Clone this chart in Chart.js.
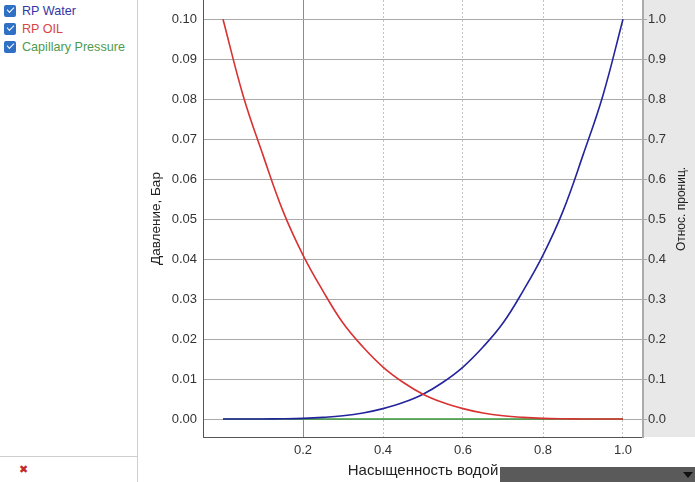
<!DOCTYPE html>
<html>
<head>
<meta charset="utf-8">
<script src="https://cdn.jsdelivr.net/npm/chart.js@4/dist/chart.umd.min.js"></script>
<style>
  html, body { margin: 0; padding: 0; background: #fff; }
  body { width: 695px; height: 482px; position: relative; overflow: hidden; font-family: "Liberation Sans", Arial, sans-serif; }
  #side { position: absolute; left: 0; top: 0; width: 137px; height: 482px; border-right: 1px solid #cfcfcf; }
  #side .item { position: absolute; left: 4px; height: 14px; font-size: 12.6px; line-height: 14px; white-space: nowrap; }
  #side .box { display: inline-block; width: 12px; height: 12px; border-radius: 2px; background: #2f6fc4; vertical-align: top; margin-top: 1px; position: relative; }
  #side .box:after { content: ""; position: absolute; left: 3px; top: 2px; width: 6px; height: 3px; border-left: 1.5px solid #fff; border-bottom: 1.5px solid #fff; transform: rotate(-45deg); }
  #side .lbl { margin-left: 6px; }
  #sep { position: absolute; left: 0; top: 456px; width: 137px; border-top: 1px solid #cfcfcf; }
  #close { position: absolute; left: 19px; top: 463px; color: #c42a2a; font-size: 11px; }
  #wrap { position: absolute; left: 138px; top: 0; width: 557px; height: 482px; }
  #combo { position: absolute; left: 500px; top: 467px; width: 195px; height: 15px; background: #5a5a5a; }
  #combo:after { content: ""; position: absolute; right: 2px; top: 5px; border-left: 5px solid transparent; border-right: 5px solid transparent; border-top: 6px solid #111; }
</style>
</head>
<body>
<div id="side">
  <div class="item" style="top:4px"><span class="box"></span><span class="lbl" style="color:#3535a6">RP Water</span></div>
  <div class="item" style="top:22px"><span class="box"></span><span class="lbl" style="color:#d84545">RP OIL</span></div>
  <div class="item" style="top:40px"><span class="box"></span><span class="lbl" style="color:#4f9a4f">Capillary Pressure</span></div>
  <div id="sep"></div>
  <div id="close">&#10006;</div>
</div>
<div id="wrap"><canvas id="chart" width="557" height="482"></canvas></div>
<div id="combo"></div>
<script>
// water saturation and curves
const saturation = [0, 0.05, 0.1, 0.15, 0.2, 0.25, 0.3, 0.35, 0.4, 0.45, 0.5, 0.55, 0.6, 0.65, 0.7, 0.75, 0.8, 0.85, 0.9, 0.95, 1.0];
const rpWater = [0, 0, 0.0001, 0.0005, 0.0016, 0.004, 0.008, 0.015, 0.026, 0.041, 0.062, 0.092, 0.13, 0.18, 0.24, 0.32, 0.41, 0.52, 0.66, 0.81, 1.0];
const rpOil = [1.0, 0.81, 0.66, 0.52, 0.41, 0.32, 0.24, 0.18, 0.13, 0.092, 0.062, 0.041, 0.026, 0.015, 0.008, 0.004, 0.0016, 0.0005, 0.0001, 0, 0];
const capPressure = [0, 0, 0, 0, 0, 0, 0, 0, 0, 0, 0, 0, 0, 0, 0, 0, 0, 0, 0, 0, 0];

const xTicks = [0.2, 0.4, 0.6, 0.8, 1.0];
const pressureTicks = [0, 0.01, 0.02, 0.03, 0.04, 0.05, 0.06, 0.07, 0.08, 0.09, 0.10];
const permTicks = [0, 0.1, 0.2, 0.3, 0.4, 0.5, 0.6, 0.7, 0.8, 0.9, 1.0];

const toPoints = (ys) => saturation.map((x, i) => ({x, y: ys[i]}));
const fixTicks = (values) => (scale) => { scale.ticks = values.map(v => ({value: v})); };

const font = {family: '"Liberation Sans", Arial, sans-serif', size: 13};

// grey strip behind the right axis and its title, which reads bottom-up like the left one
const sideStrip = {
  id: 'sideStrip',
  beforeDraw (chart) {
    const {ctx, chartArea} = chart;
    ctx.save();
    ctx.fillStyle = '#e8e8e8';
    ctx.fillRect(chartArea.right, 0, chart.width - chartArea.right, chartArea.bottom);
    ctx.restore();
  },
  afterDraw (chart) {
    const {ctx} = chart;
    ctx.save();
    ctx.translate(chart.width - 13, 209);
    ctx.rotate(-Math.PI / 2);
    ctx.font = '12px "Liberation Sans", Arial, sans-serif';
    ctx.fillStyle = '#222';
    ctx.textAlign = 'center';
    ctx.textBaseline = 'middle';
    ctx.fillText('Относ. прониц.', 0, 0);
    ctx.restore();
  }
};

new Chart(document.getElementById('chart'), {
  type: 'line',
  data: {
    datasets: [
      {label: 'RP OIL', data: toPoints(rpOil), yAxisID: 'y1', borderColor: '#d93232', borderWidth: 1.6, pointRadius: 0, tension: 0.4, order: 1},
      {label: 'RP Water', data: toPoints(rpWater), yAxisID: 'y1', borderColor: '#24249c', borderWidth: 1.6, pointRadius: 0, tension: 0.4, order: 2},
      {label: 'Capillary Pressure', data: toPoints(capPressure), yAxisID: 'y', borderColor: '#3c9a3c', borderWidth: 1.6, pointRadius: 0, order: 3}
    ]
  },
  options: {
    responsive: false,
    animation: false,
    layout: {padding: 0},
    plugins: {legend: {display: false}, tooltip: {enabled: false}},
    scales: {
      x: {
        type: 'linear', min: -0.05, max: 1.05,
        afterBuildTicks: fixTicks(xTicks),
        afterFit (scale) { scale.height = 45; scale.paddingLeft = 0; scale.paddingRight = 0; },
        grid: {
          drawTicks: false,
          color: (c) => (c.tick && c.tick.value === 0.2) ? '#8c8c8c' : '#c4c4c4'
        },
        border: {color: '#555', width: 1, dash: (c) => (c.tick && c.tick.value === 0.2) ? [] : [2, 2]},
        ticks: {color: '#333', font, padding: 6, callback: (v) => v.toFixed(1)},
        title: {display: true, text: 'Насыщенность водой', color: '#222', font: {...font, size: 15}, padding: {top: 0, bottom: 2}}
      },
      y: {
        position: 'left', min: -0.0045, max: 0.1048,
        afterBuildTicks: fixTicks(pressureTicks),
        afterFit (scale) { scale.width = 65; scale.paddingTop = 0; scale.paddingBottom = 0; },
        grid: {drawTicks: false, color: '#a9a9a9'},
        border: {color: '#555', width: 1},
        ticks: {color: '#333', font, padding: 6, callback: (v) => v.toFixed(2)},
        title: {display: true, text: 'Давление, Бар', color: '#222', font: {...font, size: 13.5}, padding: {top: 10, bottom: 0}}
      },
      y1: {
        position: 'right', min: -0.045, max: 1.048,
        afterBuildTicks: fixTicks(permTicks),
        afterFit (scale) { scale.width = 52; scale.paddingTop = 0; scale.paddingBottom = 0; },
        grid: {drawOnChartArea: false, tickLength: 4, color: '#a9a9a9'},
        border: {color: '#aaa', width: 2},
        ticks: {color: '#333', font, padding: 1, callback: (v) => v.toFixed(1)}
      }
    }
  },
  plugins: [sideStrip]
});
</script>
</body>
</html>
